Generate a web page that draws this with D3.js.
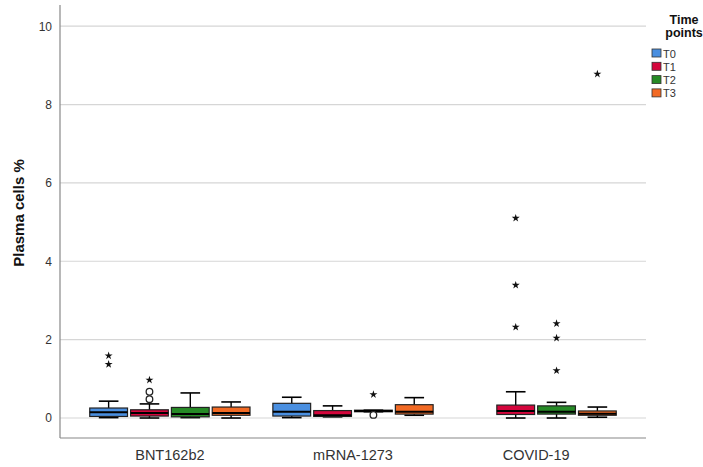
<!DOCTYPE html>
<html>
<head>
<meta charset="utf-8">
<script src="https://cdn.jsdelivr.net/npm/d3@7"></script>
<style>
  html, body { margin: 0; padding: 0; background: #fff; }
  svg { display: block; font-family: "Liberation Sans", Arial, sans-serif; }
</style>
</head>
<body>
<svg id="chart" width="703" height="467"></svg>
<script>
// Vaccine / infection groups on the x axis
const groups = ["BNT162b2", "mRNA-1273", "COVID-19"];
// Sampling time points (one box per group)
const timePoints = ["T0", "T1", "T2", "T3"];
const timeColors = ["#4a8fe0", "#d4063c", "#268a26", "#f26a24"];

// Box summaries per time point: [lower whisker, Q1, median, Q3, upper whisker]; null = no samples
const statsT0 = [[0.01, 0.04, 0.15, 0.255, 0.43], [0.01, 0.05, 0.16, 0.375, 0.53], null];
const statsT1 = [[0.00, 0.05, 0.13, 0.21, 0.36], [0.03, 0.04, 0.07, 0.19, 0.31], [0.00, 0.09, 0.18, 0.33, 0.67]];
const statsT2 = [[0.01, 0.03, 0.10, 0.27, 0.64], [0.16, 0.16, 0.18, 0.20, 0.20], [0.00, 0.10, 0.16, 0.31, 0.40]];
const statsT3 = [[0.00, 0.07, 0.13, 0.28, 0.41], [0.07, 0.10, 0.16, 0.34, 0.52], [0.02, 0.07, 0.11, 0.18, 0.28]];

// Outliers (circles) and extreme values (stars): [group, time point, value]
const outliers = [
  ["BNT162b2", "T1", 0.48], ["BNT162b2", "T1", 0.67],
  ["mRNA-1273", "T2", 0.08]
];
const extremes = [
  ["BNT162b2", "T0", 1.37], ["BNT162b2", "T0", 1.59],
  ["BNT162b2", "T1", 0.97],
  ["mRNA-1273", "T2", 0.60],
  ["COVID-19", "T1", 2.32], ["COVID-19", "T1", 3.39], ["COVID-19", "T1", 5.10],
  ["COVID-19", "T2", 1.21], ["COVID-19", "T2", 2.04], ["COVID-19", "T2", 2.41],
  ["COVID-19", "T3", 8.78]
];

const yTicks = [0, 2, 4, 6, 8, 10];
const yTitle = "Plasma cells %";
const legendTitle = ["Time", "points"];

const statsByTime = [statsT0, statsT1, statsT2, statsT3];
const boxes = [];
timePoints.forEach((tp, i) => {
  groups.forEach((g, j) => {
    const s = statsByTime[i][j];
    if (s) boxes.push({ group: g, tp, color: timeColors[i],
      lo: s[0], q1: s[1], med: s[2], q3: s[3], hi: s[4] });
  });
});

const svg = d3.select("#chart");
const plot = { left: 60, right: 646, top: 5, bottom: 438 };

const x0 = d3.scaleBand().domain(groups)
  .range([plot.left, plot.right]).paddingInner(0).paddingOuter(0.1);
const x1 = d3.scaleBand().domain(timePoints)
  .range([0, x0.bandwidth()]).paddingInner(0.075).paddingOuter(0.28);
const y = d3.scaleLinear().domain([-0.51, 10.54]).range([plot.bottom, plot.top]);
const color = d3.scaleOrdinal().domain(timePoints).range(timeColors);

// Gridlines
svg.append("g").selectAll("line").data(yTicks).join("line")
  .attr("x1", plot.left).attr("x2", plot.right)
  .attr("y1", d => y(d)).attr("y2", d => y(d))
  .attr("stroke", "#d6d6d6").attr("stroke-width", 1.2);

// Axes
const yAxis = d3.axisLeft(y).tickValues(yTicks).tickSize(0).tickPadding(8);
const gy = svg.append("g").attr("transform", `translate(${plot.left},0)`).call(yAxis);
gy.select(".domain").remove();
gy.selectAll("text").attr("font-size", 12).attr("fill", "#333")
  .attr("font-family", "Liberation Sans, Arial, sans-serif");

const xAxis = d3.axisBottom(x0).tickSize(0).tickPadding(12);
const gx = svg.append("g").attr("transform", `translate(0,${plot.bottom})`).call(xAxis);
gx.select(".domain").remove();
gx.selectAll("text").attr("font-size", 14.5).attr("fill", "#333")
  .attr("font-family", "Liberation Sans, Arial, sans-serif");

svg.append("line").attr("x1", plot.left).attr("x2", plot.left)
  .attr("y1", plot.top).attr("y2", plot.bottom)
  .attr("stroke", "#888").attr("stroke-width", 1.2);
svg.append("line").attr("x1", plot.left).attr("x2", plot.right)
  .attr("y1", plot.bottom).attr("y2", plot.bottom)
  .attr("stroke", "#888").attr("stroke-width", 1.2);

// Y title
svg.append("text")
  .attr("transform", "translate(24,213) rotate(-90)")
  .attr("text-anchor", "middle")
  .attr("font-size", 15).attr("font-weight", "bold").attr("fill", "#111")
  .text(yTitle);

// Boxes
const xc = d => x0(d.group) + x1(d.tp) + x1.bandwidth() / 2;
const bw = x1.bandwidth();
const capW = bw * 0.52;
const bg = svg.append("g").selectAll("g").data(boxes).join("g");

bg.append("line")
  .attr("x1", xc).attr("x2", xc)
  .attr("y1", d => y(d.hi)).attr("y2", d => y(d.lo))
  .attr("stroke", "#000").attr("stroke-width", 1.4);
bg.append("line")
  .attr("x1", d => xc(d) - capW / 2).attr("x2", d => xc(d) + capW / 2)
  .attr("y1", d => y(d.hi)).attr("y2", d => y(d.hi))
  .attr("stroke", "#000").attr("stroke-width", 1.6);
bg.append("line")
  .attr("x1", d => xc(d) - capW / 2).attr("x2", d => xc(d) + capW / 2)
  .attr("y1", d => y(d.lo)).attr("y2", d => y(d.lo))
  .attr("stroke", "#000").attr("stroke-width", 1.6);
bg.append("rect")
  .attr("x", d => xc(d) - bw / 2).attr("width", bw)
  .attr("y", d => y(d.q3)).attr("height", d => Math.max(0.5, y(d.q1) - y(d.q3)))
  .attr("fill", d => color(d.tp))
  .attr("stroke", "#222").attr("stroke-width", 1.2);
bg.append("line")
  .attr("x1", d => xc(d) - bw / 2).attr("x2", d => xc(d) + bw / 2)
  .attr("y1", d => y(d.med)).attr("y2", d => y(d.med))
  .attr("stroke", "#000").attr("stroke-width", 2);

// Outlier circles
const px = (g, tp) => x0(g) + x1(tp) + x1.bandwidth() / 2;
svg.append("g").selectAll("circle").data(outliers).join("circle")
  .attr("cx", d => px(d[0], d[1])).attr("cy", d => y(d[2]))
  .attr("r", 3.3).attr("fill", "#fff").attr("stroke", "#222").attr("stroke-width", 1.3);

// Extreme values as stars
const star = d3.symbol().type(d3.symbolStar).size(20);
svg.append("g").selectAll("path").data(extremes).join("path")
  .attr("d", star)
  .attr("transform", d => `translate(${px(d[0], d[1])},${y(d[2])})`)
  .attr("fill", "#111");

// Legend
const lg = svg.append("g");
lg.selectAll("text.title").data(legendTitle).join("text")
  .attr("class", "title")
  .attr("x", 684).attr("y", (d, i) => 24 + i * 13)
  .attr("text-anchor", "middle")
  .attr("font-size", 12.5).attr("font-weight", "bold").attr("fill", "#111")
  .text(d => d);
const items = lg.selectAll("g.item").data(timePoints).join("g")
  .attr("class", "item")
  .attr("transform", (d, i) => `translate(652,${49 + i * 13.3})`);
items.append("rect").attr("width", 9).attr("height", 8)
  .attr("fill", d => color(d)).attr("stroke", "#333").attr("stroke-width", 0.8);
items.append("text").attr("x", 11).attr("y", 8.5)
  .attr("font-size", 11).attr("fill", "#333").text(d => d);
</script>
</body>
</html>
